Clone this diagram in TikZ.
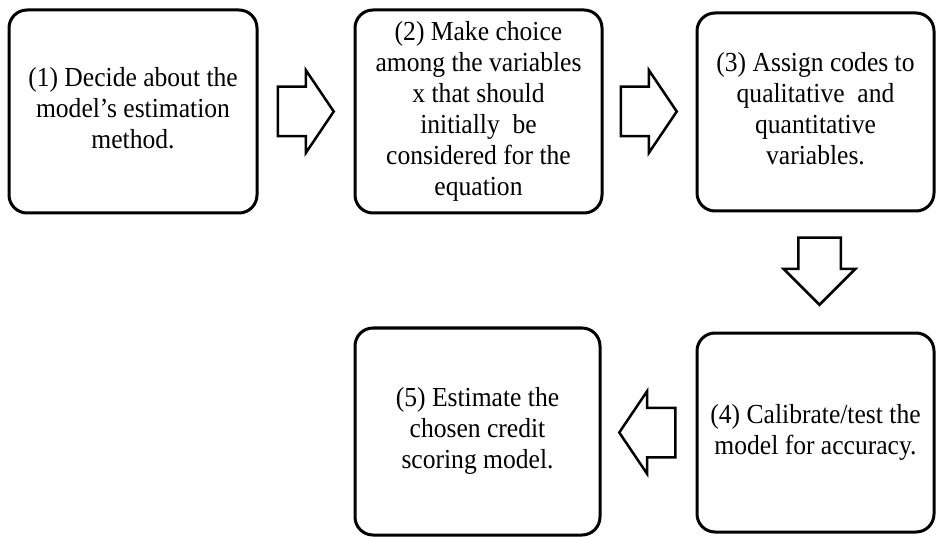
\documentclass[tikz,border=0pt]{standalone}
\usepackage{fontspec}
\setmainfont{Liberation Serif}
\usetikzlibrary{shapes.arrows,calc}
\newcommand{\steptext}[1]{\scalebox{0.93}[1]{\begin{tabular}{@{}c@{}}#1\end{tabular}}}

\begin{document}
\begin{tikzpicture}[x=1pt,y=-1pt,
  stepbox/.style={draw,line width=3pt,rounded corners=18pt,inner sep=0pt,
    font=\fontsize{27.5}{31}\selectfont},
  blockarrow/.style={draw,line width=2.5pt,single arrow,inner sep=0pt,inner ysep=23.5pt,
    single arrow head extend=16.5pt,single arrow tip angle=112,minimum height=56pt,anchor=tail}]
  \useasboundingbox (0,0) rectangle (937,537);
  \node[stepbox,minimum width=248pt,minimum height=203pt] (b1) at (133,111.5)
    {\steptext{(1) Decide about the\\model's estimation\\method.}};
  \node[stepbox,minimum width=247pt,minimum height=203pt] (b2) at (478.5,111.5)
    {\steptext{(2) Make choice\\among the variables\\x that should\\initially\ \ be\\considered for the\\equation}};
  \node[stepbox,minimum width=237pt,minimum height=198pt] (b3) at (815.5,112)
    {\steptext{(3) Assign codes to\\qualitative\ \ and\\quantitative\\variables.}};
  \node[stepbox,minimum width=237pt,minimum height=199pt] (b4) at (815.5,432.5)
    {\steptext{(4) Calibrate/test the\\model for accuracy.}};
  \node[stepbox,minimum width=245pt,minimum height=207pt] (b5) at (477.5,431.5)
    {\steptext{(5) Estimate the\\chosen credit\\scoring model.}};
  \node[blockarrow] (a12) at ($(b1.east)+(18,0)$) {};
  \node[blockarrow] (a23) at ($(b2.east)+(16,0)$) {};
  \node[blockarrow,shape border rotate=270,inner ysep=0pt,inner xsep=20pt,single arrow head extend=14.5pt,
    single arrow tip angle=90,minimum height=67pt] (a34) at ($(b3.south)+(4,24)$) {};
  \node[blockarrow,shape border rotate=180] (a45) at ($(b4.west)+(-19,0)$) {};
\end{tikzpicture}
\end{document}
